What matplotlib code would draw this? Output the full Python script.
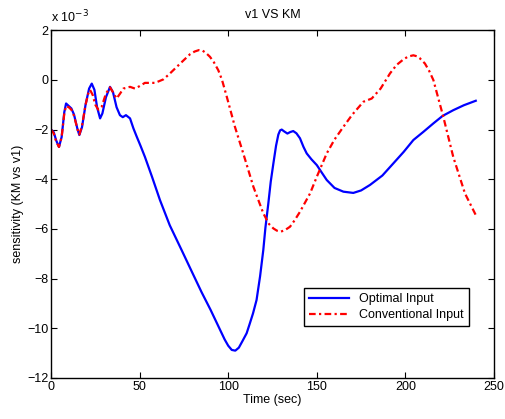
import numpy as np
import matplotlib
matplotlib.use('Agg')
import matplotlib.pyplot as plt

plt.rcParams['font.family'] = ['Liberation Sans', 'DejaVu Sans']

# optimal input (blue), values in units of 1e-3
t_opt = [0, 1.5, 3, 4.5, 6, 7.5, 8.5, 10, 11.5, 13, 15, 16, 17.5, 19.5, 21.5, 23,
         24.5, 26, 27.7, 29, 31, 33.3, 35, 37, 38.9, 40.5, 42.3, 44.6, 46.5, 48.4,
         50.5, 53, 57, 61.5, 67, 73.7, 80, 85, 90, 95, 98, 100, 102, 104, 106, 108,
         110.4, 112, 114, 116, 118, 119.8, 121, 122.6, 124, 125.5, 127, 128.3,
         129.3, 130.2, 131.5, 133.4, 135, 136.7, 138.5, 140.5, 142.5, 144.3, 147,
         150, 152.5, 155.6, 160, 165, 170.6, 175, 180, 187, 193.2, 199, 204.5, 210,
         215.8, 221, 227, 233, 239.7]
s_opt = [-2.0, -2.1, -2.45, -2.7, -2.3, -1.3, -0.95, -1.05, -1.15, -1.4, -2.0, -2.22,
         -1.9, -1.0, -0.35, -0.15, -0.4, -1.1, -1.55, -1.35, -0.7, -0.28, -0.5, -1.1,
         -1.42, -1.5, -1.42, -1.55, -1.95, -2.29, -2.65, -3.1, -3.9, -4.84, -5.85,
         -6.85, -7.8, -8.55, -9.25, -10.0, -10.45, -10.7, -10.87, -10.9, -10.78,
         -10.52, -10.2, -9.85, -9.4, -8.86, -7.9, -6.85, -5.95, -5.0, -4.1, -3.36,
         -2.65, -2.2, -2.03, -2.0, -2.07, -2.16, -2.1, -2.06, -2.15, -2.35, -2.7,
         -2.96, -3.2, -3.43, -3.7, -4.03, -4.35, -4.5, -4.55, -4.45, -4.23, -3.85,
         -3.36, -2.9, -2.42, -2.1, -1.75, -1.45, -1.22, -1.02, -0.84]

# conventional input (red)
t_conv = [0, 1.5, 3, 4.5, 6, 7.5, 8.5, 10, 11.5, 13, 15, 16, 17.5, 19.5, 21, 22,
          23.5, 25, 26.7, 28.5, 31, 33.3, 35, 37, 39, 40.8, 44.6, 47.4, 50, 53,
          58.7, 63.4, 67, 70.9, 75, 78.4, 81, 83.5, 85.5, 87.5, 89.7, 92, 94.4,
          96.5, 99.2, 103.8, 108.5, 114.2, 119.8, 123, 125.5, 127.5, 129.6, 132,
          134.9, 137.5, 140.5, 146.2, 150, 155.6, 160, 165, 170, 176.3, 181, 186,
          191.3, 195, 198.8, 201.5, 204.5, 206.5, 208, 211, 213.5, 215.8, 221.4,
          227, 233.6, 239.7]
s_conv = [-2.0, -2.15, -2.5, -2.7, -2.3, -1.35, -1.05, -1.1, -1.2, -1.45, -2.0, -2.2,
          -1.85, -1.0, -0.55, -0.4, -0.6, -1.0, -1.2, -1.1, -0.55, -0.3, -0.5, -0.75,
          -0.55, -0.35, -0.28, -0.35, -0.25, -0.12, -0.12, 0.02, 0.25, 0.52, 0.8,
          1.03, 1.14, 1.2, 1.18, 1.08, 0.93, 0.7, 0.39, 0.0, -0.68, -1.89, -2.96,
          -4.3, -5.37, -5.8, -5.98, -6.07, -6.11, -6.05, -5.91, -5.65, -5.31, -4.57,
          -3.9, -2.96, -2.4, -1.89, -1.4, -0.88, -0.75, -0.35, 0.26, 0.6, 0.82,
          0.94, 0.99, 0.95, 0.88, 0.66, 0.35, -0.01, -1.49, -3.1, -4.57, -5.44]

x_ticks = [0, 50, 100, 150, 200, 250]
y_ticks = [-12, -10, -8, -6, -4, -2, 0, 2]

fig = plt.figure(figsize=(5.06, 4.19), dpi=100)
ax = fig.add_axes([0.1008, 0.0979, 0.8755, 0.830])

ax.plot(t_opt, s_opt, color='#0000ff', lw=1.6, label='Optimal Input')
ax.plot(t_conv, s_conv, color='#ff0000', lw=1.6, dashes=(3, 1.5, 1, 1.5),
        label='Conventional Input')

ax.set_xlim(0, 250)
ax.set_ylim(-12, 2)
ax.set_xticks(x_ticks)
ax.set_yticks(y_ticks)
ax.tick_params(direction='in', length=4, top=True, right=True, labelsize=9, pad=2)
for sp in ax.spines.values():
    sp.set_linewidth(1.0)

ax.set_title('v1 VS KM', fontsize=9, pad=9)
ax.set_xlabel('Time (sec)', fontsize=9, labelpad=1)
ax.set_ylabel('sensitivity (KM vs v1)', fontsize=9, labelpad=2)
ax.text(0.0, 1.015, r'x 10$^{-3}$', transform=ax.transAxes, fontsize=9,
        ha='left', va='bottom')

leg = ax.legend(loc='lower right', bbox_to_anchor=(0.957, 0.131), fontsize=9,
                fancybox=False, framealpha=1, edgecolor='black',
                handlelength=3.2, borderpad=0.4, labelspacing=0.3)
leg.get_frame().set_linewidth(1.0)

fig.savefig('out.png', dpi=100)
